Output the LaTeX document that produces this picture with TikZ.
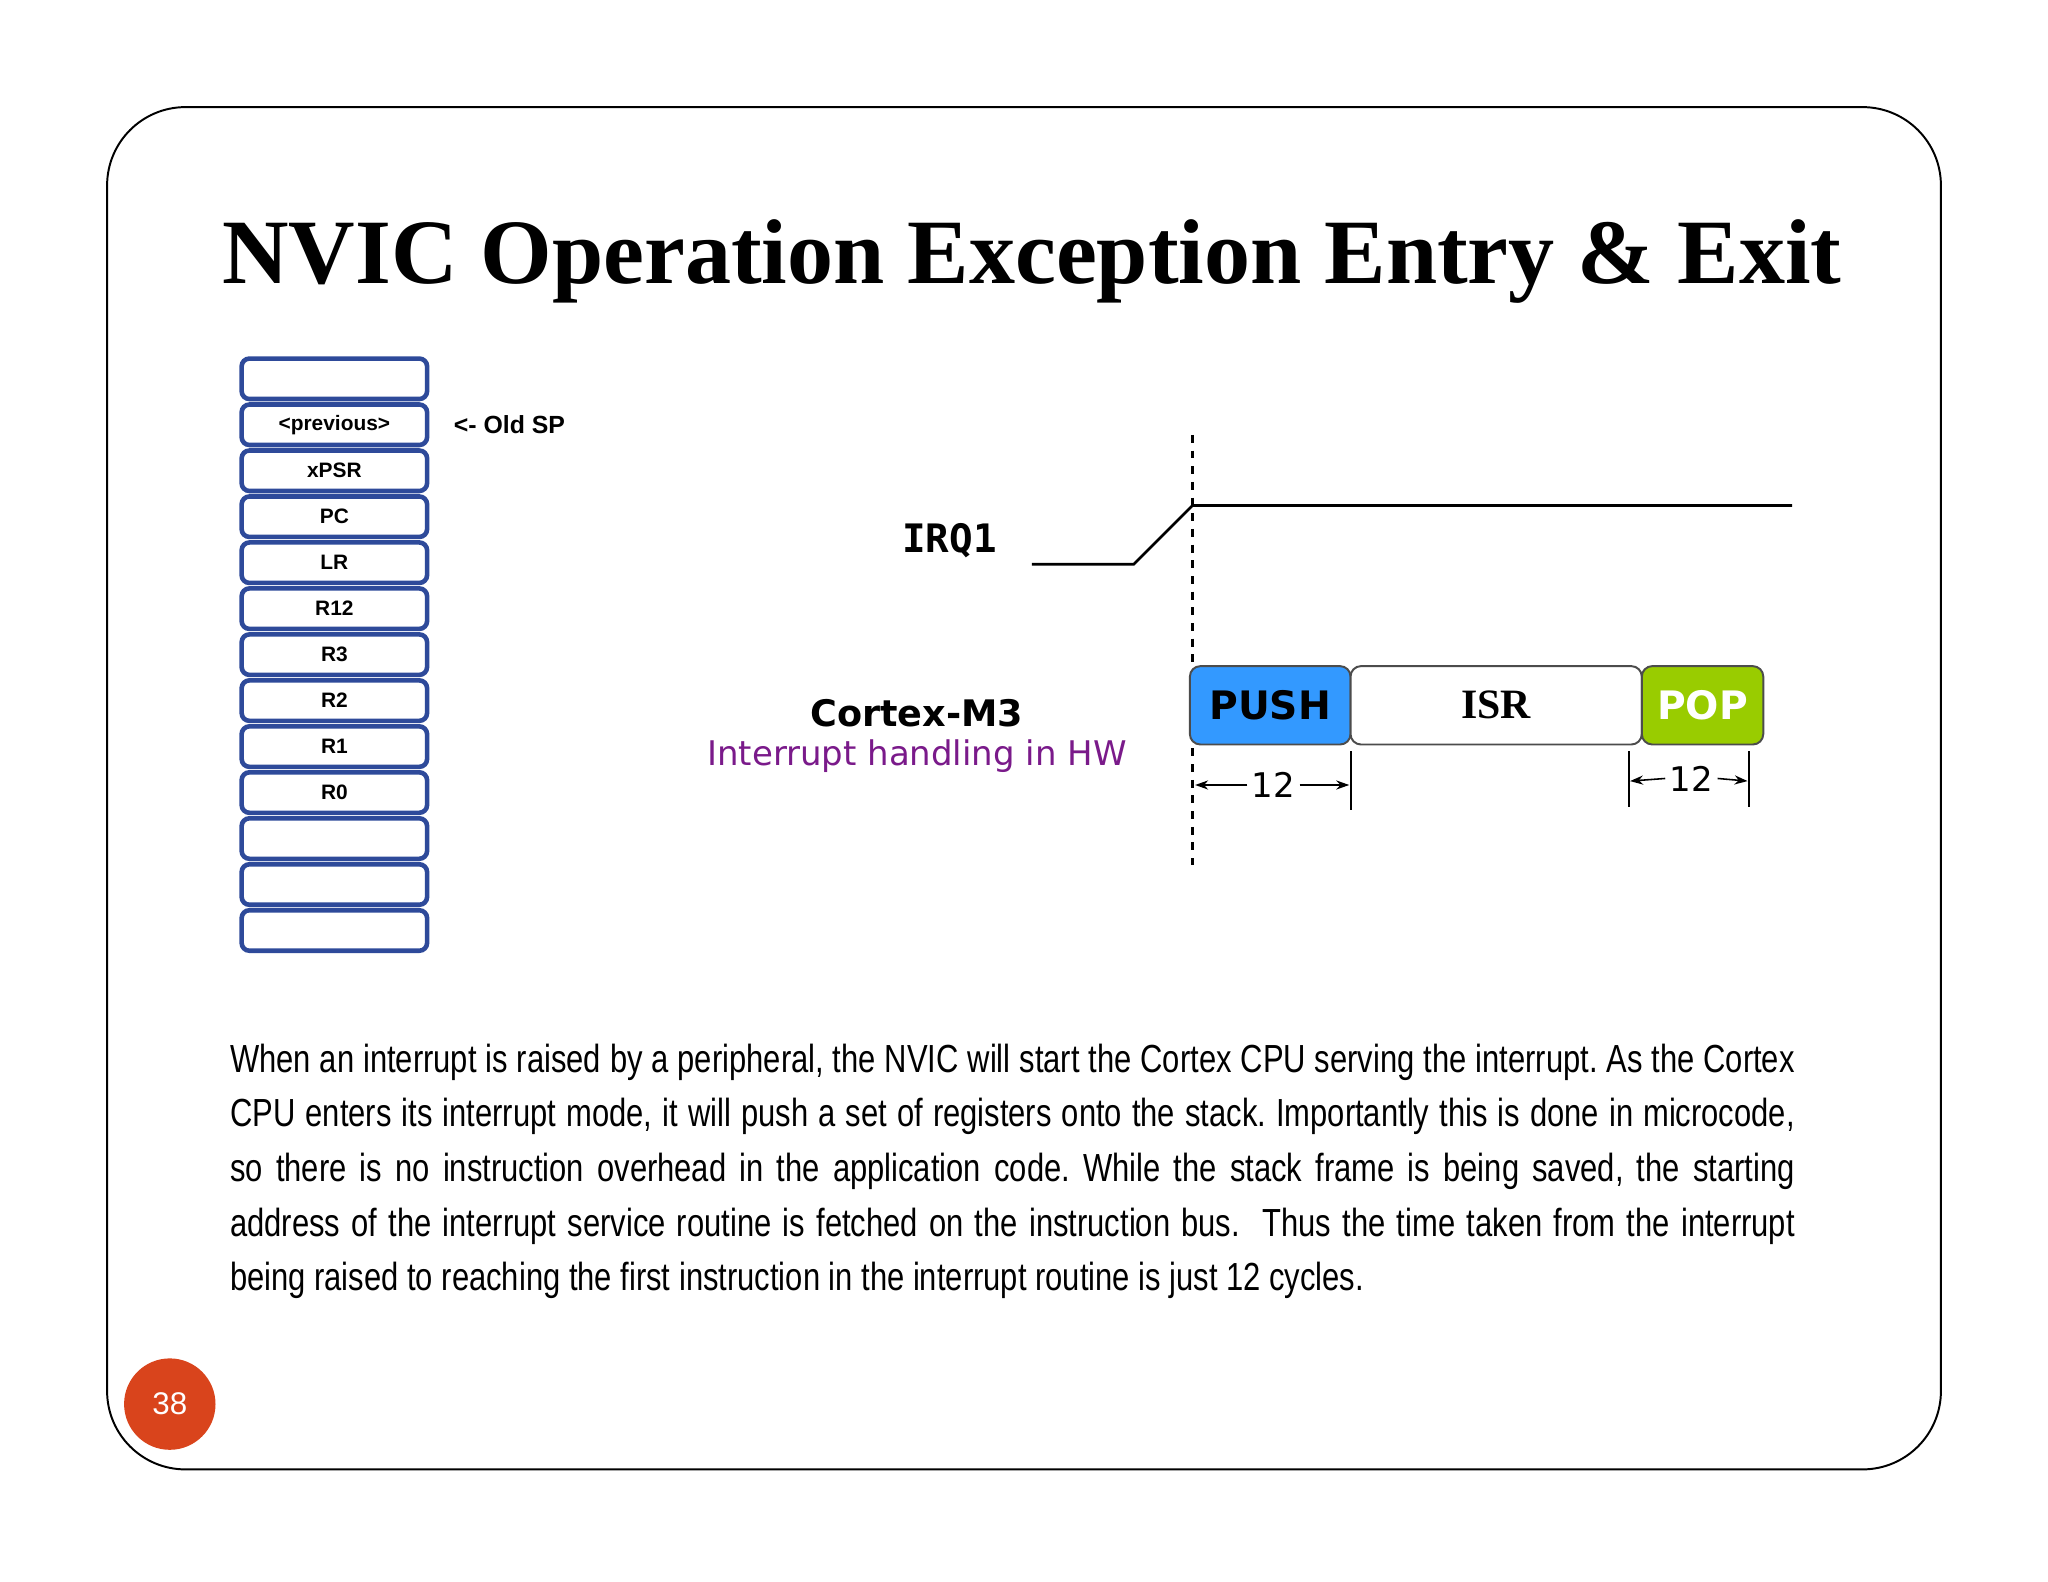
\documentclass[tikz,border=0pt]{standalone}
\usepackage{fontspec}
\setmainfont{Liberation Serif}
\newfontfamily\dvs{DejaVu Sans}
\newfontfamily\dvm{DejaVu Sans Mono}
\newfontfamily\lsans{Liberation Sans}
\newfontfamily\narrowf[FakeStretch=0.79]{Liberation Sans}
\usetikzlibrary{arrows.meta}
\definecolor{stackblue}{HTML}{2E4A9A}
\definecolor{pushblue}{HTML}{3399FF}
\definecolor{popgreen}{HTML}{99CC00}
\definecolor{pagered}{HTML}{D9441C}
\definecolor{hwpurple}{HTML}{7A1A8A}
\tikzset{
  reg/.style={draw=stackblue,line width=3.5pt,rounded corners=6pt,minimum width=142pt,minimum height=31pt,inner sep=0pt,font=\lsans\bfseries\fontsize{16}{16}\selectfont,fill=white},
  phase/.style={draw=black!70,line width=1.5pt,rounded corners=8pt,minimum height=60pt,inner sep=0pt,font=\dvs\bfseries\fontsize{30}{30}\selectfont},
  dimtick/.style={line width=1.5pt},
  dimarr/.style={line width=1.2pt,-{Stealth[length=10pt,width=7pt]}},
  para/.style={anchor=west,inner sep=0pt,font=\narrowf\fontsize{30}{30}\selectfont}
}
\newcommand{\pline}[1]{\makebox[1198pt][s]{#1}}
\begin{document}
\frenchspacing
\begin{tikzpicture}[x=1pt,y=-1pt]
\useasboundingbox (0,0) rectangle (1568,1211);
\draw[line width=1.5pt,rounded corners=60pt] (82,82) rectangle (1486,1125);
\node (title) at (790,200) {\bfseries\fontsize{70.5}{70}\selectfont NVIC Operation Exception Entry \& Exit};
% stack
\foreach \i/\t in {0/,1/<previous>,2/xPSR,3/PC,4/LR,5/R12,6/R3,7/R2,8/R1,9/R0,10/,11/,12/}{
  \node[reg] (r\i) at (256,{290+35.2*\i}) {\t};
}
\node[anchor=west,font=\lsans\bfseries\fontsize{19}{19}\selectfont] (oldsp) at (344,325) {<- Old SP};
% timing
\coordinate (dtop) at (913,333);
\coordinate (dbot) at (913,662);
\draw[line width=2pt,dash pattern=on 6pt off 6pt] (dtop) -- (dbot);
\node[font=\dvm\bfseries\fontsize{30}{30}\selectfont] (irq) at (727,414) {IRQ1};
\coordinate (s0) at (790,432);
\coordinate (s1) at (868,432);
\coordinate (s2) at (913,387);
\coordinate (s3) at (1372,387);
\draw[line width=2pt] (s0) -- (s1) -- (s2) -- (s3);
\node[font=\dvs\bfseries\fontsize{28}{28}\selectfont] (cm3) at (702,546) {Cortex-M3};
\node[font=\dvs\fontsize{26}{26}\selectfont,text=hwpurple] (hw) at (702,579) {Interrupt handling in HW};
\node[phase,fill=pushblue,minimum width=123pt] (push) at (972.5,540) {PUSH};
\node[phase,fill=white,minimum width=223pt,font=\bfseries\fontsize{32}{32}\selectfont] (isr) at (1145.5,540) {ISR};
\node[phase,fill=popgreen,text=white,minimum width=93pt] (pop) at (1303.5,540) {POP};
% dimensions
\coordinate (t1a) at (1034,575); \coordinate (t1b) at (1034,620);
\draw[dimtick] (t1a) -- (t1b);
\coordinate (t2a) at (1247,575); \coordinate (t2b) at (1247,618);
\coordinate (t3a) at (1339,575); \coordinate (t3b) at (1339,618);
\draw[dimtick] (t2a) -- (t2b); \draw[dimtick] (t3a) -- (t3b);
\node[font=\dvs\fontsize{26}{26}\selectfont] (n1) at (975,601) {12};
\node[font=\dvs\fontsize{26}{26}\selectfont] (n2) at (1295,596) {12};
\draw[dimarr] (n1.west) -- (915,601);
\draw[dimarr] (n1.east) -- (1033,601);
\draw[dimarr] (n2.west) -- (1248,598);
\draw[dimarr] (n2.east) -- (1338,598);
% paragraph
\node[para] (p1) at (176,813) {\pline{When an interrupt is raised by a peripheral, the NVIC will start the Cortex CPU serving the interrupt. As the Cortex}};
\node[para] (p2) at (176,855) {\pline{CPU enters its interrupt mode, it will push a set of registers onto the stack. Importantly this is done in microcode,}};
\node[para] (p3) at (176,897) {\pline{so there is no instruction overhead in the application code. While the stack frame is being saved, the starting}};
\node[para] (p4) at (176,939) {\pline{address of the interrupt service routine is fetched on the instruction bus.\ \ Thus the time taken from the interrupt}};
\node[para] (p5) at (176,980) {being raised to reaching the first instruction in the interrupt routine is just 12 cycles.};
% page number
\node[circle,fill=pagered,minimum size=70pt,text=white,font=\lsans\fontsize{24}{24}\selectfont] (pg) at (130,1075) {38};
\end{tikzpicture}
\end{document}
